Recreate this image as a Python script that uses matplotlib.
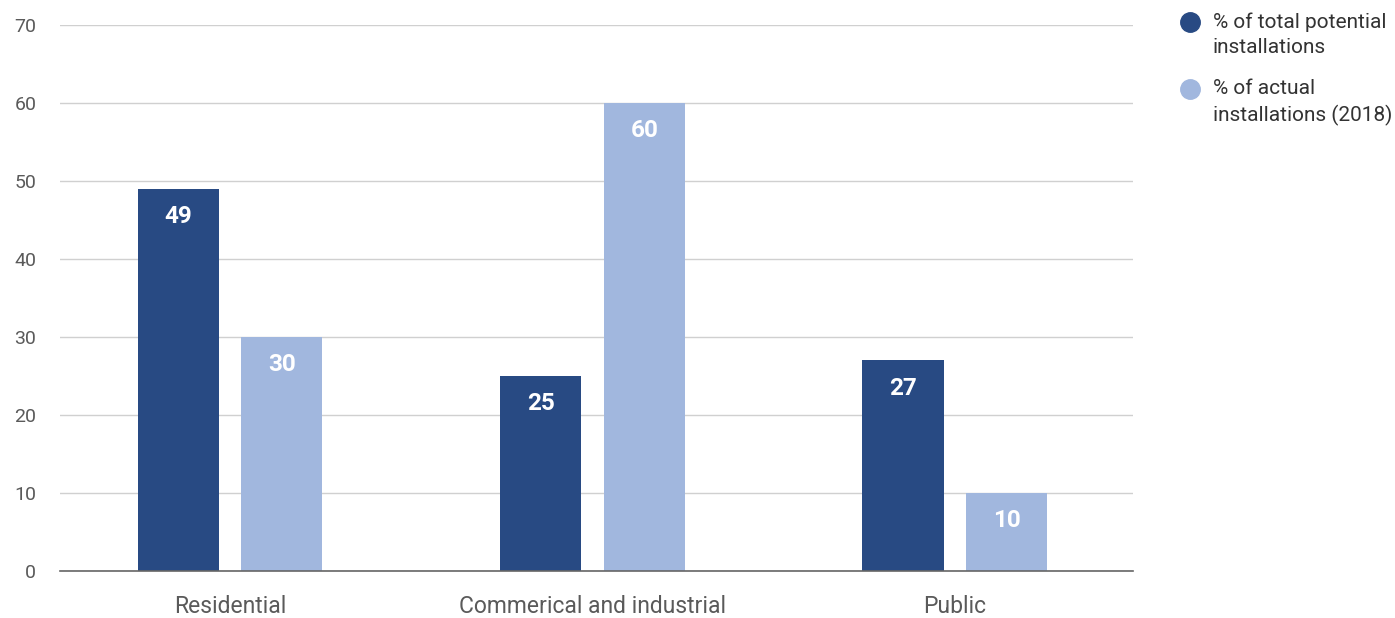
import numpy as np
from matplotlib import pyplot as plt

plt.rcParams['font.family'] = ['Roboto', 'DejaVu Sans']

categories = ['Residential', 'Commerical and industrial', 'Public']
potential = [49, 25, 27]
actual = [30, 60, 10]
series_names = ['% of total potential\ninstallations', '% of actual\ninstallations (2018)']

dark = '#284a83'
light = '#a1b7de'

fig = plt.figure(figsize=(13.95, 6.18), dpi=100)
ax = fig.add_axes([0.043, 0.076, 0.769, 0.8835])

x = np.arange(len(categories))
w = 0.224
off = 0.143

b1 = ax.bar(x - off, potential, w, color=dark, zorder=3)
b2 = ax.bar(x + off, actual, w, color=light, zorder=3)

# value labels inside the top of each bar
for bars in (b1, b2):
    for bar in bars:
        ax.annotate(f'{bar.get_height():g}',
                    (bar.get_x() + bar.get_width() / 2, bar.get_height()),
                    xytext=(0, -20), textcoords='offset points',
                    ha='center', va='center', color='white',
                    fontsize=17.5, fontweight='bold', zorder=4)

ax.set_ylim(0, 70)
ax.set_xlim(-0.469, 2.491)
ax.set_yticks(range(0, 71, 10))
ax.set_xticks(x)
ax.set_xticklabels(categories)
ax.grid(axis='y', color='#d0d0d0', linewidth=1, zorder=0)
ax.tick_params(axis='y', length=0, pad=17, labelsize=14, labelcolor='#5a5a5a')
ax.tick_params(axis='x', length=0, pad=17, labelsize=16.5, labelcolor='#5a5a5a')
for s in ['top', 'right', 'left']:
    ax.spines[s].set_visible(False)
ax.spines['bottom'].set_color('#666666')
ax.spines['bottom'].set_linewidth(1.2)
ax.spines['bottom'].set_zorder(5)

# legend, drawn by hand so the dot lines up with the first text line
for i, (name, c) in enumerate(zip(series_names, [dark, light])):
    ymid = 1 - (22 + 67 * i) / 618
    fig.lines.append(plt.Line2D([1190 / 1395], [ymid], marker='o', markersize=14,
                                color=c, transform=fig.transFigure))
    fig.text(1213 / 1395, ymid + 10 / 618, name, fontsize=15, color='#333333',
             va='top', ha='left', linespacing=1.45,
             transform=fig.transFigure)

fig.savefig('out.png', dpi=100)
